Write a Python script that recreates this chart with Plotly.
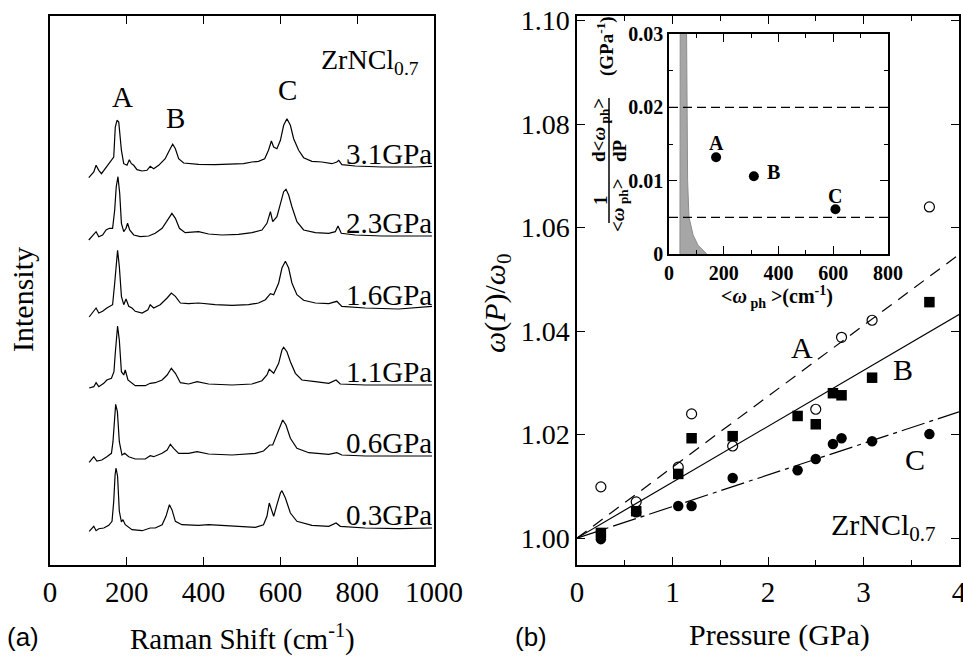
import plotly.graph_objects as go

W, H = 963, 656

# ---------------- panel (a): Raman spectra ----------------
spectrum_labels = ["3.1GPa", "2.3GPa", "1.6GPa", "1.1GPa", "0.6GPa", "0.3GPa"]

shift_31 = [101, 114, 120, 127, 134, 144, 157, 166, 170, 174.5, 179, 181.5, 186, 192, 200.5, 206.5, 212, 218, 226.5, 240,
            252.5, 261, 270, 283, 300, 311, 319.5, 326.5, 335, 348, 365, 387, 430, 474, 504, 526, 543, 559, 569, 576.5,
            582.5, 591, 600, 608.5, 617, 626, 634.5, 647.5, 660.5, 682, 708, 734, 747, 752, 760, 795, 864, 951, 995]
int_31 = [-10.7, -5, 1.7, -3.3, -6.7, -1.7, 5, 10, 40, 46.7, 45, 36.7, 16.7, 3.3, 1.7, 7.3, 3.3, 1.7, -2.7, -4,
          -3.3, 0.7, -1.7, 1.7, 8.3, 16.7, 22.7, 18.3, 8.3, 4, 3.3, 2.7, 2.3, 2.7, 3.3, 5, 5.7, 8.3, 16.7, 26,
          20, 18.3, 26.7, 41.7, 48.3, 41.7, 28.3, 16.7, 9.3, 5.7, 5, 3.3, 5, 6.7, 2.3, 1, 0, 0, 0.7]

shift_23 = [101, 114, 120, 127, 137, 146, 154.5, 163, 168.5, 172.5, 177, 181.5, 186, 192, 198, 202, 207.5, 218, 235, 257,
            274, 292, 307, 317.5, 326.5, 337, 352, 387, 413, 448, 491, 526, 552, 565, 574, 580, 591, 600, 608.5, 614.5,
            621.5, 630, 643, 660.5, 691, 726, 743, 750, 758.5, 795, 864, 951, 995]
int_23 = [-4, 1, 4.3, -0.7, 1, 6, 7.7, 7.7, 26, 49.3, 59.3, 42.7, 12.7, 4.3, 7.7, 12.7, 6, 1, -0.7, 0,
          2.7, 7.7, 16, 22.7, 17.7, 7.7, 3.3, 4.3, 2, 1, 1.7, 3.3, 6, 12.7, 24.3, 14.3, 19.3, 32.7, 44.3, 46.7,
          41, 29.3, 14.3, 6, 3.3, 2.7, 4.3, 10, 2.7, 1, 0, 0, 0]

shift_16 = [102, 114, 120, 127, 137, 148, 157, 163, 168.5, 172.5, 176, 180.5, 186, 192, 198, 205, 213.5, 222, 240, 255,
            261, 270, 287, 305, 316, 326.5, 339.5, 361, 387, 430, 474, 517, 543, 561, 574, 582.5, 595.5, 604, 613, 621.5,
            630, 643, 660.5, 691, 726, 747, 760, 821, 908, 995]
int_16 = [-9, -3.3, 0, -5, -3.3, 0, 1.7, 3.3, 25, 48.3, 57.7, 41.7, 11.7, 3.3, 9, 1.7, 0, -3.3, -5, -1.7,
          3.3, 0, 3.3, 10, 15, 11.7, 5, 4.3, 5, 3.3, 2.7, 3.3, 5, 8.3, 14.3, 13.3, 25, 40, 46.7, 40,
          25, 13.3, 7.7, 5, 4.3, 6.7, 1.7, 0, -1, 1.7]

shift_11 = [102, 114, 120, 127, 140, 148, 160, 166.5, 170, 173.5, 176, 180.5, 186, 192, 196, 203, 222, 248, 261, 274,
            292, 305, 316, 326.5, 339.5, 361, 383, 413, 474, 526, 552, 565, 571, 582.5, 595.5, 604, 608.5, 617, 626, 639,
            656, 691, 726, 745, 756, 821, 908, 995]
int_11 = [-3, -1.7, 2.3, -1.7, 1.7, 5, 6.7, 13.3, 31.7, 55, 59, 45, 13.3, 10, 15, 5, -0.7, -0.7, 1.7, 2.3,
          5, 10, 16.7, 11.7, 2.3, 1, 3.3, 1, 0, 1, 4.3, 10, 15.7, 11.7, 21.7, 35, 37.7, 33.3, 23.3, 11.7,
          5, 3.3, 1.7, 5, 1, 0, -0.3, 0]

shift_06 = [102, 114, 122, 135, 148, 160, 164, 167.5, 171, 175.5, 180.5, 187.5, 194.5, 205, 222, 248, 261, 270, 292, 305,
            313.5, 322, 335, 361, 383, 413, 474, 535, 556, 568, 572, 580, 591, 600, 606, 614.5, 626, 643, 674, 726,
            747, 760, 821, 908, 995]
int_06 = [-6.3, -0.7, -5, -4, -0.7, 2.7, 14.3, 37.7, 51.7, 44.3, 14.3, 1, 2.7, -0.7, -3, -3, 0.3, -0.7, 2.7, 6,
          11.7, 7.7, 2.7, 2.7, 4.3, 2, 1, 2.7, 5, 9.3, 11, 11, 21, 31, 36, 31, 17.7, 7.7, 3.3, 1.7,
          3.3, 1, 0, 0, 0]

shift_03 = [102, 114, 120, 127, 140, 153, 161.5, 166, 169.5, 172, 176, 180.5, 186, 190, 196, 213.5, 240, 261, 274, 292,
            302, 311, 317.5, 326.5, 343.5, 387, 413, 474, 535, 556, 565, 571, 576.5, 582.5, 591, 600, 604, 613, 626, 643,
            682, 726, 745, 756, 821, 908, 995]
int_03 = [-3.3, 1.7, -2.7, -0.7, 0, 2.7, 6.7, 26.7, 53.3, 60, 51.7, 16.7, 6, 8.3, 3.3, -1.7, -2.7, 0, 0, 3.3,
          11.7, 23.3, 18.3, 6.7, 3.3, 2.7, 3.3, 1.7, 0.7, 3.3, 11.7, 25, 18.3, 11.7, 23.3, 35, 37.3, 30, 15, 6.7,
          2.7, 1.7, 5, 1.7, 0, -0.7, 0]

# ---------------- panel (b): omega(P)/omega0 ----------------
pressure_A = [0.25, 0.62, 1.06, 1.20, 1.63, 2.50, 2.77, 3.09, 3.69]
ratio_A = [1.0099, 1.0070, 1.0137, 1.0240, 1.0178, 1.0249, 1.0388, 1.0421, 1.0640]
pressure_B = [0.25, 0.62, 1.06, 1.20, 1.63, 2.31, 2.50, 2.68, 2.77, 3.09, 3.69]
ratio_B = [1.0010, 1.0052, 1.0124, 1.0193, 1.0197, 1.0236, 1.0220, 1.0280, 1.0276, 1.0310, 1.0456]
pressure_C = [0.25, 0.62, 1.06, 1.20, 1.63, 2.31, 2.50, 2.68, 2.77, 3.09, 3.69]
ratio_C = [0.9998, 1.0050, 1.0062, 1.0062, 1.0116, 1.0131, 1.0153, 1.0182, 1.0193, 1.0187, 1.0201]
fit_slopes = [0.0137, 0.0108, 0.0061]   # A, B, C  (per GPa)
fit_intercept = 1.0
fit_pressure_range = [0, 4]

# ---------------- inset ----------------
inset_omega = [172, 310, 608]
inset_coef = [0.0132, 0.0106, 0.0061]
inset_names = ["A", "B", "C"]
dos_omega = [40, 41, 64, 66, 68, 73, 88, 106, 138]
dos_value = [0, 0.031, 0.031, 0.02, 0.01, 0.005, 0.0026, 0.0012, 0]
inset_ref_levels = [0.02, 0.005]

# ---------------- layout helpers ----------------
def fx(p):
    return p / W

def fy(p):
    return 1 - p / H

SERIF = "Times New Roman, Liberation Serif, Tinos, serif"
SANS = "Arial, Liberation Sans, sans-serif"
spectra_offsets = [398, 329, 257, 180, 109, 37]

fig = go.Figure()

spectra = [(shift_31, int_31), (shift_23, int_23), (shift_16, int_16),
           (shift_11, int_11), (shift_06, int_06), (shift_03, int_03)]
for (sx, sy), off, lab in zip(spectra, spectra_offsets, spectrum_labels):
    fig.add_trace(go.Scatter(x=sx, y=[v + off for v in sy], mode="lines",
                             line=dict(color="black", width=1.2),
                             xaxis="x", yaxis="y", showlegend=False, hoverinfo="skip"))
    fig.add_annotation(x=1000, y=off + 13, xref="x", yref="y", text=lab, showarrow=False,
                       xanchor="right", yanchor="middle", font=dict(family=SERIF, size=29, color="black"))

# fit lines
dashes = ["12px,8px", "solid", "24px,5px,4px,5px"]
for slope, dsh in zip(fit_slopes, dashes):
    fig.add_trace(go.Scatter(x=fit_pressure_range,
                             y=[fit_intercept + slope * p for p in fit_pressure_range],
                             mode="lines", line=dict(color="black", width=1.2, dash=dsh),
                             xaxis="x2", yaxis="y2", showlegend=False, hoverinfo="skip"))

fig.add_trace(go.Scatter(x=pressure_A, y=ratio_A, mode="markers",
                         marker=dict(symbol="circle-open", size=10, color="black", line=dict(width=1.2)),
                         xaxis="x2", yaxis="y2", showlegend=False))
fig.add_trace(go.Scatter(x=pressure_B, y=ratio_B, mode="markers",
                         marker=dict(symbol="square", size=10.5, color="black"),
                         xaxis="x2", yaxis="y2", showlegend=False))
fig.add_trace(go.Scatter(x=pressure_C, y=ratio_C, mode="markers",
                         marker=dict(symbol="circle", size=10.5, color="black"),
                         xaxis="x2", yaxis="y2", showlegend=False))

# inset
fig.add_trace(go.Scatter(x=dos_omega, y=dos_value, mode="lines", fill="toself",
                         fillcolor="#a6a6a6", line=dict(color="#8c8c8c", width=1),
                         xaxis="x3", yaxis="y3", showlegend=False, hoverinfo="skip"))
for lvl in inset_ref_levels:
    fig.add_trace(go.Scatter(x=[0, 800], y=[lvl, lvl], mode="lines",
                             line=dict(color="black", width=1.2, dash="9px,5px"),
                             xaxis="x3", yaxis="y3", showlegend=False, hoverinfo="skip"))
fig.add_trace(go.Scatter(x=inset_omega, y=inset_coef, mode="markers",
                         marker=dict(symbol="circle", size=10, color="black"),
                         xaxis="x3", yaxis="y3", showlegend=False))

axis_common = dict(showgrid=False, zeroline=False, showline=True, linecolor="black", linewidth=1.5,
                   ticks="inside", tickcolor="black", ticklen=8, tickwidth=1.2, automargin=False)

ya_top, ya_bot = 16, 565
fig.update_layout(
    width=W, height=H, margin=dict(l=0, r=0, t=0, b=0, autoexpand=False),
    paper_bgcolor="white", plot_bgcolor="white", showlegend=False,
    xaxis=dict(domain=[fx(50), fx(434)], range=[0, 1000], tickvals=[0, 200, 400, 600, 800, 1000],
               mirror="ticks", ticklabeloverflow="allow",
               tickfont=dict(family=SERIF, size=29, color="black"), **axis_common),
    yaxis=dict(domain=[fy(ya_bot), fy(ya_top)], range=[0, 549], showticklabels=False,
               showgrid=False, zeroline=False, showline=True, linecolor="black", linewidth=1.5,
               mirror=True, ticks="", automargin=False),
    xaxis2=dict(domain=[fx(577), fx(959)], range=[0, 4], tickvals=[0, 1, 2, 3, 4], mirror="ticks",
                ticklabeloverflow="allow",
                minor=dict(dtick=0.5, ticks="inside", ticklen=5, tickcolor="black"),
                tickfont=dict(family=SERIF, size=29, color="black"), anchor="y2", **axis_common),
    yaxis2=dict(domain=[fy(ya_bot), fy(ya_top)], range=[0.9948, 1.1009],
                tickvals=[1.00, 1.02, 1.04, 1.06, 1.08, 1.10], tickformat=".2f", mirror="ticks",
                tickfont=dict(family=SERIF, size=28, color="black"), anchor="x2", **axis_common),
    xaxis3=dict(domain=[fx(669), fx(888)], range=[0, 800], tickvals=[0, 200, 400, 600, 800], mirror="ticks",
                minor=dict(dtick=100, ticks="inside", ticklen=4, tickcolor="black"),
                tickfont=dict(family=SERIF, size=20, color="black", weight="bold"), anchor="y3",
                **axis_common),
    yaxis3=dict(domain=[fy(254), fy(34)], range=[0, 0.03], tickvals=[0, 0.01, 0.02, 0.03],
                ticktext=["0", "0.01", "0.02", "0.03"], mirror="ticks",
                minor=dict(dtick=0.005, ticks="inside", ticklen=4, tickcolor="black"),
                tickfont=dict(family=SERIF, size=20, color="black", weight="bold"), anchor="x3",
                **axis_common),
)

def note(x, y, text, size=29, family=SERIF, angle=0, bold=False, xanchor="center"):
    fig.add_annotation(x=fx(x), y=fy(y), xref="paper", yref="paper", text=text, showarrow=False,
                       textangle=angle, xanchor=xanchor, yanchor="middle",
                       font=dict(family=family, size=size, color="black",
                                 weight="bold" if bold else "normal"))

# panel (a) texts
note(370, 62, "ZrNCl<sub>0.7</sub>", size=28)
note(122, 97, "A")
note(175, 118, "B")
note(287, 90, "C")
note(22, 300, "Intensity", size=30, angle=-90)
note(242, 637, "Raman Shift (cm<sup>-1</sup>)", size=29)
note(23, 637, "(a)", size=26, family=SANS)

# panel (b) texts
note(531, 637, "(b)", size=26, family=SANS)
note(779, 635, "Pressure (GPa)", size=30)
note(497, 303, "<i>ω</i>(<i>P</i>)/<i>ω</i><sub>0</sub>", size=30, angle=-90)
note(802, 347, "A", size=30)
note(903, 370, "B", size=30)
note(915, 459, "C", size=30)
note(883, 527, "ZrNCl<sub>0.7</sub>", size=30)

# inset texts
for name, xo, yo in zip(inset_names, [716, 773, 835], [143, 172, 196]):
    note(xo, yo, name, size=20, bold=True)
note(777, 297, "&lt;<i>ω</i><sub> ph</sub> &gt;(cm<sup>-1</sup>)", size=20, bold=True)
note(600, 200, "1", size=19, bold=True, angle=-90)
note(600, 130, "d&lt;<i>ω</i><sub> ph</sub>&gt;", size=19, bold=True, angle=-90)
note(619, 205, "&lt;<i>ω</i><sub> ph</sub>&gt;", size=19, bold=True, angle=-90)
note(619, 151, "dP", size=19, bold=True, angle=-90)
note(606, 46, "(GPa<sup>-1</sup>)", size=19, bold=True, angle=-90)
fig.add_shape(type="line", xref="paper", yref="paper", x0=fx(609), x1=fx(609), y0=fy(98), y1=fy(223),
              line=dict(color="black", width=1.5))

fig.write_html("out.html", config={"displayModeBar": False},
               post_script="document.body.style.margin='0px';document.body.style.overflow='hidden';")
